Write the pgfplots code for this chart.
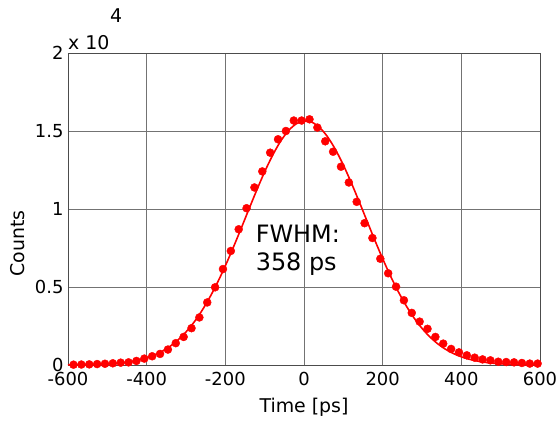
\documentclass[border=0pt]{standalone}
\usepackage{fontspec}
\setmainfont{DejaVu Sans}
\usepackage{pgfplots}
\pgfplotsset{compat=1.18}
\begin{document}
\begin{tikzpicture}
\begin{axis}[at={(0,0)}, anchor=south west, scale only axis,
  width=472bp, height=312bp,
  xmin=-600, xmax=600, ymin=0, ymax=2,
  xtick={-600,-400,-200,0,200,400,600},
  xticklabels={-600,-400,-200,0,200,400,600},
  ytick={0,0.5,1,1.5,2},
  yticklabels={0,0.5,1,1.5,2},
  grid=major,
  grid style={line width=0.7bp, color=black!55},
  axis line style={line width=0.7bp, color=black!70},
  major tick style={draw=none},
  ticklabel style={font=\fontsize{18}{20}\selectfont},
  xticklabel style={yshift=-4bp},
  yticklabel style={xshift=-1bp},
  label style={font=\fontsize{19}{21}\selectfont},
  xlabel={Time [ps]},
  ylabel={Counts},
  xlabel style={at={(axis description cs:0.5,0)}, anchor=center, yshift=-42bp},
  ylabel style={at={(axis description cs:-0.106,0.39)}, anchor=center},
]
\addplot[red, line width=1.6bp, smooth] coordinates {
(-600,0.0006) (-580,0.0010) (-560,0.0016) (-540,0.0026) (-520,0.0041)
(-500,0.0064) (-480,0.0098) (-460,0.0148) (-440,0.0220) (-420,0.0320)
(-400,0.0458) (-380,0.0644) (-360,0.0890) (-340,0.1208) (-320,0.1614)
(-300,0.2118) (-280,0.2731) (-260,0.3464) (-240,0.4316) (-220,0.5283)
(-200,0.6359) (-180,0.7521) (-160,0.8745) (-140,0.9991) (-120,1.1220)
(-100,1.2384) (-80,1.3434) (-60,1.4323) (-40,1.5008) (-20,1.5456)
(0,1.5645) (20,1.5564) (40,1.5217) (60,1.4623) (80,1.3811)
(100,1.2821) (120,1.1695) (140,1.0487) (160,0.9243) (180,0.8005)
(200,0.6814) (220,0.5701) (240,0.4689) (260,0.3789) (280,0.3010)
(300,0.2349) (320,0.1803) (340,0.1360) (360,0.1008) (380,0.0734)
(400,0.0526) (420,0.0370) (440,0.0256) (460,0.0174) (480,0.0116)
(500,0.0076) (520,0.0049) (540,0.0031) (560,0.0019) (580,0.0012)
(600,0.0007)
};
\addplot[only marks, mark=*, mark size=4bp, color=red, mark options={fill=red}] coordinates {
(-586,0.002) (-566,0.003) (-546,0.004) (-526,0.006) (-506,0.008)
(-486,0.011) (-466,0.015) (-446,0.017) (-426,0.026) (-406,0.041)
(-386,0.056) (-366,0.071) (-346,0.099) (-326,0.140) (-306,0.180)
(-286,0.236) (-266,0.305) (-246,0.401) (-226,0.498) (-206,0.615)
(-186,0.731) (-166,0.870) (-146,1.005) (-126,1.138) (-106,1.241)
(-86,1.361) (-66,1.447) (-46,1.500) (-26,1.567) (-6,1.567)
(14,1.575) (34,1.522) (54,1.434) (74,1.367) (94,1.271)
(114,1.170) (134,1.046) (154,0.909) (174,0.814) (194,0.681)
(214,0.588) (234,0.502) (254,0.415) (274,0.334) (294,0.278)
(314,0.232) (334,0.180) (354,0.137) (374,0.103) (394,0.081)
(414,0.062) (434,0.047) (454,0.036) (474,0.030) (494,0.021)
(514,0.019) (534,0.017) (554,0.013) (574,0.009) (594,0.009)
};
\node[anchor=north west, inner sep=0, align=left, font=\fontsize{24}{28}\selectfont] at (axis cs:-123,0.9) {FWHM:\\358 ps};
\end{axis}
\node[anchor=base west, inner sep=0, font=\fontsize{19}{21}\selectfont] at (0bp,315bp) {x 10};
\node[anchor=base west, inner sep=0, font=\fontsize{19}{21}\selectfont] at (42bp,342bp) {4};
\pgfresetboundingbox
\useasboundingbox (-68bp,-57bp) rectangle (488bp,365bp);
\end{tikzpicture}
\end{document}
